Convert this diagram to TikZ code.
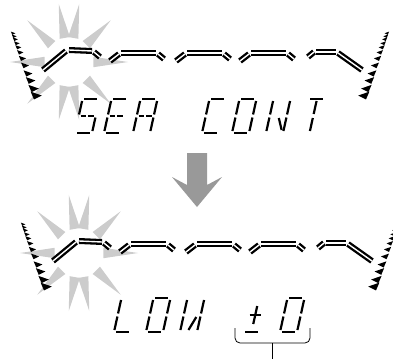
\documentclass[tikz,border=0pt]{standalone}
\begin{document}
\tikzset{
  dbl/.style={draw=black, double=white, double distance=1.4pt, line width=2.3pt},
  lcdseg/.style={line width=2.2pt},
  burst/.style={fill=black!20},
  % segments of one display cell (17 x 34)
  seg a/.pic={\draw[lcdseg] (2,34)--(15,34);},
  seg b/.pic={\draw[lcdseg] (17,32)--(17,18.5);},
  seg c/.pic={\draw[lcdseg] (17,15.5)--(17,2);},
  seg d/.pic={\draw[lcdseg] (2,0)--(15,0);},
  seg e/.pic={\draw[lcdseg] (0,2)--(0,15.5);},
  seg f/.pic={\draw[lcdseg] (0,18.5)--(0,32);},
  seg g1/.pic={\draw[lcdseg] (2,17)--(7.5,17);},
  seg g2/.pic={\draw[lcdseg] (9.5,17)--(15,17);},
  seg i/.pic={\draw[lcdseg] (8.5,19)--(8.5,32);},
  seg l/.pic={\draw[lcdseg] (8.5,2)--(8.5,15);},
  seg k/.pic={\draw[lcdseg] (9.5,15)--(15,3);},
  seg m/.pic={\draw[lcdseg] (8,2)--(13,15);},
  seg pv/.pic={\draw[lcdseg] (8.5,8)--(8.5,26);},
  seg ph/.pic={\draw[lcdseg] (3,17)--(14,17);},
}
\newcommand\lcdchar[2]{%
  \begin{scope}[shift={#1}, y=1pt, xslant=0.22, transform shape]
    \foreach \s in {#2} {\pic[transform shape] {seg \s};}
  \end{scope}}
\newcommand\lcdladder{%
  \foreach \y/\s in {33/2.2,36/2.4,39/2.6,43/2.8,47/3,52/3.2,58/3.6,65/4,73/4.4,80/4.8,88/5.2,95/5.6} {
    \pgfmathsetmacro\x{12+(\y-30)*0.373}
    \fill (\x,\y) ++(-\s,-0.6*\s) -- ++(2*\s,0.7*\s) -- ++(-1.4*\s,0.7*\s) -- cycle;
  }}
\newcommand\lcdpanel{%
  % blinking burst
  \begin{scope}[shift={(69,62)}]
    \foreach \a in {0,45,80,100,135,180,225,260,280,315}
      \fill[burst] (\a:59) -- (\a+12:25) -- (\a-12:25) -- cycle;
  \end{scope}
  % ladders
  \lcdladder
  \begin{scope}[shift={(400,0)}, xscale=-1]
    \lcdladder
  \end{scope}
  % curve
  \draw[dbl] (43,70) -- (66,51);
  \draw[dbl] (69,50) -- (92,51);
  \draw[dbl] (94,52) -- (100,57);
  \foreach \xs in {110,176,240} {
    \draw[dbl] (\xs,61) -- (\xs+9,54);
    \draw[dbl] (\xs+11,53) -- (\xs+46,53);
    \draw[dbl] (\xs+48,54) -- (\xs+54,59);
  }
  \draw[dbl] (308,57) -- (314,52);
  \draw[dbl] (316,52) -- (336,52);
  \draw[dbl] (338,53) -- (362,70);
}
\begin{tikzpicture}[x=1pt, y=-1pt]
  \useasboundingbox (0,0) rectangle (393,359);
  \clip (0,0) rectangle (393,359);

  % oben
  \lcdpanel
  \lcdchar{(75,133)}{a,f,g1,g2,c,d}
  \lcdchar{(104,133)}{a,f,g1,g2,e,d}
  \lcdchar{(133,133)}{a,b,c,e,f,g1,g2}
  \lcdchar{(202,133)}{a,f,e,d}
  \lcdchar{(232,133)}{a,b,c,d,e,f}
  \lcdchar{(266,133)}{f,e,b,c,k}
  \lcdchar{(301,133)}{a,i,l}

  % Pfeil
  \fill[black!40] (187,153) -- (207,153) -- (207,185) -- (222,177)
    -- (197,207) -- (172,177) -- (187,185) -- cycle;

  % unten
  \begin{scope}[shift={(10,191)}]
    \lcdpanel
  \end{scope}
  \lcdchar{(114,332)}{f,e,d}
  \lcdchar{(146,332)}{a,b,c,d,e,f}
  \lcdchar{(180,332)}{f,e,b,c,m}
  \lcdchar{(243,332)}{ph,pv,d}
  \lcdchar{(280,332)}{a,b,c,d,e,f}

  % Klammer
  \coordinate (brk) at (272.5,343);
  \coordinate (lead) at (272.5,359);
  \draw[line width=0.8pt, rounded corners=5pt] (235,328) -- (235,343) -- (310,343) -- (310,328);
  \draw[line width=0.8pt] (brk) -- (lead);
\end{tikzpicture}
\end{document}
